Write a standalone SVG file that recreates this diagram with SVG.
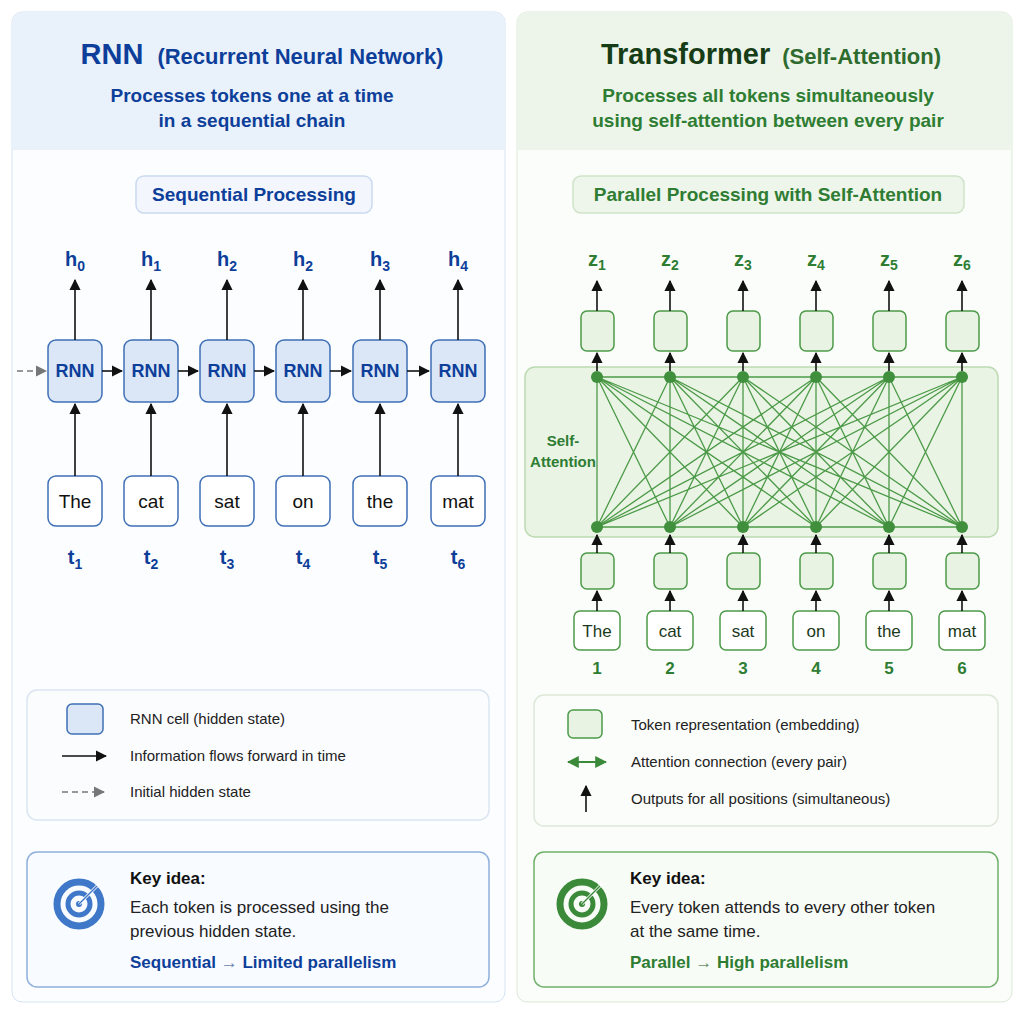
<svg xmlns="http://www.w3.org/2000/svg" width="1024" height="1024" viewBox="0 0 1024 1024">
<defs>
<style>
text{font-family:"Liberation Sans",Arial,sans-serif}
.b{fill:#0d3f9a;font-weight:bold}
.g{fill:#2e7d32;font-weight:bold}
.tok{fill:#fff;stroke:#3f6fb5;stroke-width:1.5}
.rnn{fill:#dbe7f7;stroke:#3f6fb5;stroke-width:1.5}
.gb{fill:#e8f3e3;stroke:#4c9a48;stroke-width:1.5}
.gt{fill:#fff;stroke:#4c9a48;stroke-width:1.5}
.ar{stroke:#111;stroke-width:1.6;fill:none;marker-end:url(#ah)}
.att{stroke:#4c9a48;stroke-width:1.3;fill:none}
.lg{font-size:15px;fill:#222}
</style>
<marker id="ah" viewBox="0 0 10 10" refX="9" refY="5" markerWidth="7" markerHeight="7" orient="auto-start-reverse"><path d="M0,0L10,5L0,10z" fill="#111"/></marker>
<marker id="ahg" viewBox="0 0 10 10" refX="9" refY="5" markerWidth="7" markerHeight="7" orient="auto"><path d="M0,0L10,5L0,10z" fill="#777"/></marker>
<marker id="ahgr" viewBox="0 0 10 10" refX="9" refY="5" markerWidth="6" markerHeight="6" orient="auto-start-reverse"><path d="M0,0L10,5L0,10z" fill="#3b8a3a"/></marker>
</defs>
<rect width="1024" height="1024" fill="#fff"/>
<g id="left-panel">
<rect x="12" y="12" width="493" height="990" rx="10" fill="#fbfdff" stroke="#d6e3f3"/>
<path d="M22,12h473a10,10 0 0 1 10,10v128h-493v-128a10,10 0 0 1 10,-10z" fill="#e9f1fb"/>
<text x="262" y="64" text-anchor="middle" class="b"><tspan font-size="29">RNN</tspan><tspan font-size="22" dx="14">(Recurrent Neural Network)</tspan></text>
<text x="252" y="102" text-anchor="middle" class="b" font-size="19">Processes tokens one at a time</text>
<text x="252" y="127" text-anchor="middle" class="b" font-size="19">in a sequential chain</text>
<rect x="136" y="176" width="236" height="37" rx="8" fill="#f3f7fd" stroke="#c9daf0" stroke-width="1.5"/>
<text x="254" y="201" text-anchor="middle" class="b" font-size="19">Sequential Processing</text>
</g>
<g id="right-panel">
<rect x="517" y="12" width="495" height="990" rx="10" fill="#fbfdfa" stroke="#dbe9d6"/>
<path d="M527,12h475a10,10 0 0 1 10,10v128h-495v-128a10,10 0 0 1 10,-10z" fill="#edf5ea"/>
<text x="771" y="64" text-anchor="middle"><tspan font-size="29" font-weight="bold" fill="#173d17">Transformer</tspan><tspan font-size="22" dx="12" font-weight="bold" fill="#2e6b2e">(Self-Attention)</tspan></text>
<text x="768" y="102" text-anchor="middle" class="g" font-size="19">Processes all tokens simultaneously</text>
<text x="768" y="127" text-anchor="middle" class="g" font-size="19">using self-attention between every pair</text>
<rect x="573" y="176" width="391" height="37" rx="8" fill="#eef5eb" stroke="#cfe3c8" stroke-width="1.5"/>
<text x="768" y="201" text-anchor="middle" class="g" font-size="19" fill="#2e6b2e">Parallel Processing with Self-Attention</text>
</g>
<g id="rnn-nodes" font-size="18">
<g id="rnn1"><rect class="rnn" x="48" y="340" width="54" height="62" rx="8"/><text x="75" y="377" text-anchor="middle" class="b">RNN</text></g>
<g id="rnn2"><rect class="rnn" x="124" y="340" width="54" height="62" rx="8"/><text x="151" y="377" text-anchor="middle" class="b">RNN</text></g>
<g id="rnn3"><rect class="rnn" x="200" y="340" width="54" height="62" rx="8"/><text x="227" y="377" text-anchor="middle" class="b">RNN</text></g>
<g id="rnn4"><rect class="rnn" x="276" y="340" width="54" height="62" rx="8"/><text x="303" y="377" text-anchor="middle" class="b">RNN</text></g>
<g id="rnn5"><rect class="rnn" x="353" y="340" width="54" height="62" rx="8"/><text x="380" y="377" text-anchor="middle" class="b">RNN</text></g>
<g id="rnn6"><rect class="rnn" x="431" y="340" width="54" height="62" rx="8"/><text x="458" y="377" text-anchor="middle" class="b">RNN</text></g>
</g>
<g id="rnn-tokens" font-size="19" fill="#111">
<g id="tk1"><rect class="tok" x="48" y="476" width="54" height="50" rx="8"/><text x="75" y="508" text-anchor="middle">The</text></g>
<g id="tk2"><rect class="tok" x="124" y="476" width="54" height="50" rx="8"/><text x="151" y="508" text-anchor="middle">cat</text></g>
<g id="tk3"><rect class="tok" x="200" y="476" width="54" height="50" rx="8"/><text x="227" y="508" text-anchor="middle">sat</text></g>
<g id="tk4"><rect class="tok" x="276" y="476" width="54" height="50" rx="8"/><text x="303" y="508" text-anchor="middle">on</text></g>
<g id="tk5"><rect class="tok" x="353" y="476" width="54" height="50" rx="8"/><text x="380" y="508" text-anchor="middle">the</text></g>
<g id="tk6"><rect class="tok" x="431" y="476" width="54" height="50" rx="8"/><text x="458" y="508" text-anchor="middle">mat</text></g>
</g>
<g id="rnn-labels" class="b" font-size="20" text-anchor="middle">
<text x="75" y="266">h<tspan font-size="14" dy="5">0</tspan></text>
<text x="151" y="266">h<tspan font-size="14" dy="5">1</tspan></text>
<text x="227" y="266">h<tspan font-size="14" dy="5">2</tspan></text>
<text x="303" y="266">h<tspan font-size="14" dy="5">2</tspan></text>
<text x="380" y="266">h<tspan font-size="14" dy="5">3</tspan></text>
<text x="458" y="266">h<tspan font-size="14" dy="5">4</tspan></text>
<text x="75" y="564">t<tspan font-size="14" dy="5">1</tspan></text>
<text x="151" y="564">t<tspan font-size="14" dy="5">2</tspan></text>
<text x="227" y="564">t<tspan font-size="14" dy="5">3</tspan></text>
<text x="303" y="564">t<tspan font-size="14" dy="5">4</tspan></text>
<text x="380" y="564">t<tspan font-size="14" dy="5">5</tspan></text>
<text x="458" y="564">t<tspan font-size="14" dy="5">6</tspan></text>
</g>
<g id="rnn-connectors">
<path d="M17,371H46" stroke="#777" stroke-width="1.6" stroke-dasharray="6,4" marker-end="url(#ahg)"/>
<path class="ar" d="M102,371H122"/><path class="ar" d="M178,371H198"/><path class="ar" d="M254,371H274"/><path class="ar" d="M330,371H351"/><path class="ar" d="M407,371H429"/>
<path class="ar" d="M75,340V280"/><path class="ar" d="M151,340V280"/><path class="ar" d="M227,340V280"/><path class="ar" d="M303,340V280"/><path class="ar" d="M380,340V280"/><path class="ar" d="M458,340V280"/>
<path class="ar" d="M75,476V404"/><path class="ar" d="M151,476V404"/><path class="ar" d="M227,476V404"/><path class="ar" d="M303,476V404"/><path class="ar" d="M380,476V404"/><path class="ar" d="M458,476V404"/>
</g>
<g id="attention-band">
<rect x="525" y="367" width="473" height="170" rx="10" fill="#e6f2e1" fill-opacity="0.85" stroke="#bcdab3" stroke-width="1.5"/>
<text x="563" y="446" text-anchor="middle" class="g" font-size="15" fill="#4c9a48">Self-</text>
<text x="563" y="467" text-anchor="middle" class="g" font-size="15" fill="#4c9a48">Attention</text>
</g>
<g id="attention-connectors" class="att">
<path d="M597,377H962M597,527H962"/>
<path d="M597,377L597,527M597,377L670,527M597,377L743,527M597,377L816,527M597,377L889,527M597,377L962,527
M670,377L597,527M670,377L670,527M670,377L743,527M670,377L816,527M670,377L889,527M670,377L962,527
M743,377L597,527M743,377L670,527M743,377L743,527M743,377L816,527M743,377L889,527M743,377L962,527
M816,377L597,527M816,377L670,527M816,377L743,527M816,377L816,527M816,377L889,527M816,377L962,527
M889,377L597,527M889,377L670,527M889,377L743,527M889,377L816,527M889,377L889,527M889,377L962,527
M962,377L597,527M962,377L670,527M962,377L743,527M962,377L816,527M962,377L889,527M962,377L962,527"/>
</g>
<g id="attention-dots" fill="#3f8f3c">
<circle cx="597" cy="377" r="6"/><circle cx="670" cy="377" r="6"/><circle cx="743" cy="377" r="6"/><circle cx="816" cy="377" r="6"/><circle cx="889" cy="377" r="6"/><circle cx="962" cy="377" r="6"/>
<circle cx="597" cy="527" r="6"/><circle cx="670" cy="527" r="6"/><circle cx="743" cy="527" r="6"/><circle cx="816" cy="527" r="6"/><circle cx="889" cy="527" r="6"/><circle cx="962" cy="527" r="6"/>
</g>
<g id="tf-out-boxes">
<rect class="gb" x="581" y="311" width="33" height="40" rx="6"/><rect class="gb" x="654" y="311" width="33" height="40" rx="6"/><rect class="gb" x="727" y="311" width="33" height="40" rx="6"/><rect class="gb" x="800" y="311" width="33" height="40" rx="6"/><rect class="gb" x="873" y="311" width="33" height="40" rx="6"/><rect class="gb" x="946" y="311" width="33" height="40" rx="6"/>
</g>
<g id="tf-emb-boxes">
<rect class="gb" x="581" y="553" width="33" height="36" rx="6"/><rect class="gb" x="654" y="553" width="33" height="36" rx="6"/><rect class="gb" x="727" y="553" width="33" height="36" rx="6"/><rect class="gb" x="800" y="553" width="33" height="36" rx="6"/><rect class="gb" x="873" y="553" width="33" height="36" rx="6"/><rect class="gb" x="946" y="553" width="33" height="36" rx="6"/>
</g>
<g id="tf-tokens" font-size="17" fill="#1b3a1b" text-anchor="middle">
<g><rect class="gt" x="574" y="611" width="46" height="39" rx="6"/><text x="597" y="637">The</text></g>
<g><rect class="gt" x="647" y="611" width="46" height="39" rx="6"/><text x="670" y="637">cat</text></g>
<g><rect class="gt" x="720" y="611" width="46" height="39" rx="6"/><text x="743" y="637">sat</text></g>
<g><rect class="gt" x="793" y="611" width="46" height="39" rx="6"/><text x="816" y="637">on</text></g>
<g><rect class="gt" x="866" y="611" width="46" height="39" rx="6"/><text x="889" y="637">the</text></g>
<g><rect class="gt" x="939" y="611" width="46" height="39" rx="6"/><text x="962" y="637">mat</text></g>
</g>
<g id="tf-labels" class="g" text-anchor="middle">
<g font-size="20">
<text x="597" y="266">z<tspan font-size="14" dy="4">1</tspan></text>
<text x="670" y="266">z<tspan font-size="14" dy="4">2</tspan></text>
<text x="743" y="266">z<tspan font-size="14" dy="4">3</tspan></text>
<text x="816" y="266">z<tspan font-size="14" dy="4">4</tspan></text>
<text x="889" y="266">z<tspan font-size="14" dy="4">5</tspan></text>
<text x="962" y="266">z<tspan font-size="14" dy="4">6</tspan></text>
</g>
<g font-size="17">
<text x="597" y="674">1</text><text x="670" y="674">2</text><text x="743" y="674">3</text><text x="816" y="674">4</text><text x="889" y="674">5</text><text x="962" y="674">6</text>
</g>
</g>
<g id="tf-connectors">
<path class="ar" d="M597,311V281"/><path class="ar" d="M670,311V281"/><path class="ar" d="M743,311V281"/><path class="ar" d="M816,311V281"/><path class="ar" d="M889,311V281"/><path class="ar" d="M962,311V281"/>
<path class="ar" d="M597,371V353"/><path class="ar" d="M670,371V353"/><path class="ar" d="M743,371V353"/><path class="ar" d="M816,371V353"/><path class="ar" d="M889,371V353"/><path class="ar" d="M962,371V353"/>
<path class="ar" d="M597,553V535"/><path class="ar" d="M670,553V535"/><path class="ar" d="M743,553V535"/><path class="ar" d="M816,553V535"/><path class="ar" d="M889,553V535"/><path class="ar" d="M962,553V535"/>
<path class="ar" d="M597,611V591"/><path class="ar" d="M670,611V591"/><path class="ar" d="M743,611V591"/><path class="ar" d="M816,611V591"/><path class="ar" d="M889,611V591"/><path class="ar" d="M962,611V591"/>
</g>
<g id="legend-left">
<rect x="27" y="690" width="462" height="130" rx="10" fill="#fbfcfe" stroke="#dbe5f1" stroke-width="1.5"/>
<rect class="rnn" x="67" y="704" width="36" height="30" rx="5"/>
<text x="130" y="724" class="lg">RNN cell (hidden state)</text>
<path class="ar" d="M62,756H106"/>
<text x="130" y="761" class="lg">Information flows forward in time</text>
<path d="M62,792H104" stroke="#777" stroke-width="1.6" stroke-dasharray="6,4" marker-end="url(#ahg)"/>
<text x="130" y="797" class="lg">Initial hidden state</text>
</g>
<g id="legend-right">
<rect x="534" y="695" width="464" height="131" rx="10" fill="#fbfdfa" stroke="#dde8d8" stroke-width="1.5"/>
<rect class="gb" x="568" y="710" width="34" height="28" rx="5"/>
<text x="631" y="730" class="lg">Token representation (embedding)</text>
<path d="M568,762H606" stroke="#3b8a3a" stroke-width="2" marker-start="url(#ahgr)" marker-end="url(#ahgr)"/>
<text x="631" y="767" class="lg">Attention connection (every pair)</text>
<path class="ar" d="M586,812V786"/>
<text x="631" y="804" class="lg">Outputs for all positions (simultaneous)</text>
</g>
<g id="key-left">
<rect x="27" y="852" width="462" height="135" rx="10" fill="#f8fbff" stroke="#8fb0dc" stroke-width="1.5"/>
<circle cx="79" cy="904" r="22" fill="none" stroke="#3f78c8" stroke-width="7"/>
<circle cx="79" cy="904" r="11" fill="none" stroke="#3f78c8" stroke-width="5"/>
<circle cx="79" cy="904" r="3" fill="#3f78c8"/>
<path d="M79,904L99,884" stroke="#fff" stroke-width="3"/><path d="M79,904L97,886" stroke="#3f78c8" stroke-width="1.5"/>
<text x="130" y="884" font-size="17" font-weight="bold" fill="#111">Key idea:</text>
<text x="130" y="913" font-size="17" fill="#222">Each token is processed using the</text>
<text x="130" y="937" font-size="17" fill="#222">previous hidden state.</text>
<text x="130" y="968" font-size="17" class="b">Sequential <tspan font-weight="normal" fill="#6a7fa8">→</tspan> Limited parallelism</text>
</g>
<g id="key-right">
<rect x="534" y="852" width="464" height="135" rx="10" fill="#f8fcf6" stroke="#6fb06a" stroke-width="1.5"/>
<circle cx="582" cy="904" r="22" fill="none" stroke="#3b8a3a" stroke-width="7"/>
<circle cx="582" cy="904" r="11" fill="none" stroke="#3b8a3a" stroke-width="5"/>
<circle cx="582" cy="904" r="3" fill="#3b8a3a"/>
<path d="M582,904L602,884" stroke="#fff" stroke-width="3"/><path d="M582,904L600,886" stroke="#3b8a3a" stroke-width="1.5"/>
<text x="630" y="884" font-size="17" font-weight="bold" fill="#111">Key idea:</text>
<text x="630" y="913" font-size="17" fill="#222">Every token attends to every other token</text>
<text x="630" y="937" font-size="17" fill="#222">at the same time.</text>
<text x="630" y="968" font-size="17" class="g">Parallel <tspan font-weight="normal" fill="#6a8f6a">→</tspan> High parallelism</text>
</g>
</svg>
